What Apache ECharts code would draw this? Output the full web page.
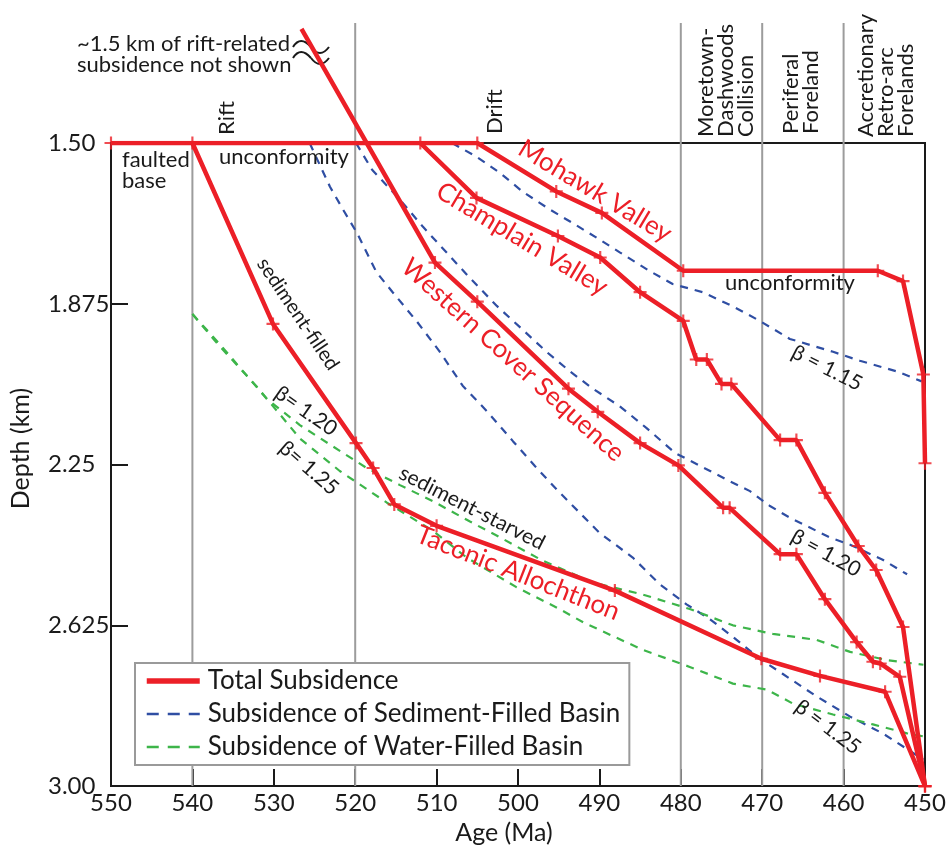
<!DOCTYPE html>
<html>
<head>
<meta charset="utf-8">
<title>Subsidence history</title>
<script src="https://cdn.jsdelivr.net/npm/echarts@6.0.0/dist/echarts.min.js"></script>
<style>
  html, body { margin: 0; padding: 0; background: #fff; }
  #subsidenceChart { width: 951px; height: 850px; }
</style>
</head>
<body>
<div id="subsidenceChart"></div>
<script>
// [age (Ma), depth (km)]
const mohawkValley = [[550, 1.5], [505, 1.5], [495.3, 1.613], [489.7, 1.663], [479.7, 1.798],
  [455.8, 1.798], [452.7, 1.822], [450.2, 2.04], [450, 2.247]];
const champlainValley = [[512, 1.5], [505.1, 1.628], [495.1, 1.717], [489.9, 1.767], [485.0, 1.848],
  [479.7, 1.915], [478.1, 2.005], [476.8, 2.005], [475.0, 2.062], [473.8, 2.062], [467.8, 2.193],
  [465.8, 2.193], [462.3, 2.316], [458.2, 2.44], [456.0, 2.496], [452.7, 2.629], [450, 3.0]];
const westernCover = [[526.6, 1.234], [510.2, 1.779], [505.0, 1.87], [493.8, 2.073], [490.2, 2.127],
  [485.0, 2.2], [480.3, 2.252], [474.8, 2.351], [474.0, 2.351], [467.8, 2.459], [465.8, 2.459],
  [462.3, 2.564], [458.4, 2.664], [456.4, 2.71], [455.5, 2.714], [453.1, 2.745], [450, 3.0]];
const taconicAllochthon = [[540, 1.5], [530.1, 1.922], [519.9, 2.2], [517.8, 2.258], [515.2, 2.343],
  [510.0, 2.393], [488.1, 2.544], [470.1, 2.703], [462.9, 2.743], [454.9, 2.78], [450, 3.0]];

// sediment-filled basin (blue dashed)
const sedBeta115 = [[508.1, 1.5], [505.1, 1.532], [502.2, 1.57], [499.4, 1.614], [496.1, 1.655],
  [493.0, 1.69], [490.0, 1.725], [487.5, 1.755], [483.8, 1.799], [481.0, 1.829], [477.3, 1.848],
  [473.4, 1.883], [470.3, 1.915], [466.6, 1.957], [461.3, 1.987], [458.0, 2.008], [453.4, 2.033],
  [450.4, 2.056]];
const sedBeta120 = [[519.9, 1.5], [517.9, 1.563], [514.5, 1.632], [511.7, 1.695], [508.8, 1.755],
  [505.9, 1.815], [502.6, 1.88], [499.8, 1.929], [496.5, 1.987], [493.6, 2.033], [490.8, 2.073],
  [487.5, 2.114], [484.2, 2.165], [480.7, 2.223], [476.4, 2.265], [474.3, 2.286], [471.5, 2.312],
  [469.1, 2.346], [466.6, 2.374], [461.7, 2.42], [459.2, 2.437], [455.2, 2.472], [452.2, 2.506]];
const sedBeta125 = [[525.6, 1.5], [523.1, 1.602], [521.5, 1.655], [519.8, 1.709], [517.4, 1.801],
  [515.4, 1.848], [512.4, 1.917], [509.6, 1.987], [506.8, 2.066], [503.8, 2.126], [500.6, 2.196],
  [497.9, 2.254], [495.2, 2.309], [492.4, 2.363], [490.0, 2.409], [485.9, 2.467], [482.6, 2.529],
  [479.3, 2.576], [476.4, 2.611], [473.6, 2.652], [470.3, 2.703], [467.5, 2.738], [463.3, 2.791],
  [459.2, 2.838], [455.2, 2.877], [450.2, 2.938]];

// water-filled basin (green dashed)
const waterBeta120 = [[540.0, 1.899], [536.7, 1.968], [533.3, 2.043], [530.9, 2.096], [526.8, 2.158],
  [522.8, 2.207], [518.6, 2.258], [514.5, 2.298], [510.5, 2.335], [505.9, 2.383], [502.2, 2.42],
  [497.0, 2.474], [490.8, 2.525], [484.7, 2.553], [478.9, 2.587], [473.6, 2.625], [468.7, 2.645],
  [463.3, 2.659], [459.2, 2.687], [454.7, 2.706], [450.2, 2.717]];
const waterBeta125 = [[540.0, 1.899], [536.7, 1.973], [532.1, 2.068], [526.8, 2.189], [521.9, 2.265],
  [516.1, 2.339], [510.5, 2.404], [506.3, 2.467], [500.2, 2.536], [494.9, 2.587], [492.0, 2.618],
  [484.7, 2.682], [478.9, 2.722], [473.6, 2.761], [469.4, 2.775], [466.2, 2.808], [461.3, 2.833],
  [456.4, 2.856], [452.2, 2.877], [450.2, 2.884]];

// tectonic phase boundaries (gray verticals)
const phaseAges = [540, 520, 480, 470, 460];
const phaseTopDepths = [1.5, 1.22, 1.22, 1.22, 1.22];

const yTickLabels = ['1.50', '1.875', '2.25', '2.625', '3.00'];

const RED = '#ec1f27';
const BLUE = '#2f4ea3';
const GREEN = '#3db54a';
const INK = '#1a1a1a';
const FONT = 'Lato, "Open Sans", sans-serif';

const PLUS = 'path://M5,0H7V5H12V7H7V12H5V7H0V5H5Z';

const dashed = (name, data, color) => ({
  name,
  type: 'line',
  data,
  symbol: 'none',
  silent: true,
  lineStyle: { color, width: 2.2, type: [8, 7] },
  itemStyle: { color },
});

const total = (data, clip = true) => ({
  name: 'Total Subsidence',
  type: 'line',
  data,
  symbol: 'none',
  silent: true,
  clip,
  lineStyle: { color: RED, width: 4.5 },
  itemStyle: { color: RED },
  z: 3,
});

const phaseLines = phaseAges.map((age, i) => ({
  type: 'line',
  data: [[age, phaseTopDepths[i]], [age, 3.0]],
  symbol: 'none',
  silent: true,
  clip: false,
  lineStyle: { color: '#9c9c9c', width: 2 },
  z: 1,
}));

// text annotations (pixel layout)
const txt = (text, x, y, opts = {}) => ({
  type: 'text',
  x,
  y,
  rotation: ((opts.rot || 0) * Math.PI) / 180,
  silent: true,
  z: 10,
  style: {
    text,
    fill: opts.color || INK,
    fontSize: opts.size || 22,
    fontFamily: FONT,
    lineHeight: opts.lh || 21,
    align: opts.align || 'center',
    verticalAlign: 'middle',
  },
});

// axis-break squiggle on the rift curve
const wave = (x1, y1, cx1, cy1, cx2, cy2, x2, y2) => ({
  type: 'bezierCurve',
  silent: true,
  z: 0,
  shape: { x1, y1, cpx1: cx1, cpy1: cy1, cpx2: cx2, cpy2: cy2, x2, y2 },
  style: { fill: null, stroke: INK, lineWidth: 2 },
});

const annotations = [
  txt('~1.5 km of rift-related\nsubsidence not shown', 77, 54, { align: 'left' }),
  txt('Rift', 227, 135, { rot: 90, align: 'left' }),
  txt('Drift', 495, 134, { rot: 90, align: 'left' }),
  txt('Moretown-\nDashwoods\nCollision', 726, 137, { rot: 90, align: 'left', lh: 20 }),
  txt('Periferal\nForeland', 801, 134, { rot: 90, align: 'left', lh: 20 }),
  txt('Accretionary\nRetro-arc\nForelands', 886, 137, { rot: 90, align: 'left', lh: 20 }),
  txt('faulted\nbase', 122, 170, { align: 'left' }),
  txt('unconformity', 284, 157),
  txt('unconformity', 790, 283),
  txt('sediment-filled', 298, 314, { rot: -56, size: 20 }),
  txt('\u03B2= 1.20', 306, 411, { rot: -35, size: 21 }),
  txt('\u03B2= 1.25', 309, 468, { rot: -41, size: 21 }),
  txt('sediment-starved', 472, 508, { rot: -27, size: 21 }),
  txt('\u03B2 = 1.15', 827, 368, { rot: -27, size: 21 }),
  txt('\u03B2 = 1.20', 826, 553, { rot: -29, size: 21 }),
  txt('\u03B2 = 1.25', 828, 727, { rot: -37, size: 21 }),
  txt('Mohawk Valley', 595, 191, { rot: -31, size: 26, color: RED }),
  txt('Champlain Valley', 522, 239, { rot: -31, size: 26, color: RED }),
  txt('Western Cover Sequence', 513, 360, { rot: -42, size: 26, color: RED }),
  txt('Taconic Allochthon', 518, 573, { rot: -21.5, size: 26, color: RED }),
  wave(293, 47, 298, 39, 304, 39, 311, 47),
  wave(311, 47, 317, 55, 323, 55, 329, 47),
  wave(293, 58, 298, 50, 304, 50, 311, 58),
  wave(311, 58, 317, 66, 323, 66, 329, 58),
];

const chart = echarts.init(document.getElementById('subsidenceChart'));

const option = {
  animation: false,
  backgroundColor: '#fff',
  textStyle: { fontFamily: FONT },
  grid: {
    left: 111,
    right: 26,
    top: 143,
    bottom: 60,
    show: true,
    borderColor: INK,
    borderWidth: 2,
  },
  legend: {
    orient: 'vertical',
    left: 135,
    top: 663,
    itemWidth: 53,
    itemHeight: 14,
    itemGap: 3,
    padding: [3, 9, 3, 9],
    borderColor: '#9a9a9a',
    borderWidth: 2,
    backgroundColor: '#fff',
    selectedMode: false,
    itemStyle: { opacity: 0 },
    textStyle: {
      fontSize: 26, color: INK, fontFamily: FONT, lineHeight: 30, padding: [0, 0, 0, 3],
    },
    data: [
      { name: 'Total Subsidence', lineStyle: { width: 5.5 } },
      { name: 'Subsidence of Sediment-Filled Basin', lineStyle: { type: [12, 9], width: 2.5 } },
      { name: 'Subsidence of Water-Filled Basin', lineStyle: { type: [12, 9], width: 2.5 } },
    ],
  },
  xAxis: {
    type: 'value',
    min: 450,
    max: 550,
    interval: 10,
    inverse: true,
    name: 'Age (Ma)',
    nameLocation: 'middle',
    nameGap: 31,
    nameTextStyle: { fontSize: 25, color: INK, padding: [0, 28, 0, 0] },
    axisLine: { lineStyle: { color: INK, width: 2 } },
    axisTick: { inside: true, length: 17, lineStyle: { color: INK, width: 2 } },
    axisLabel: { fontSize: 24, color: INK, margin: 5 },
    splitLine: { show: false },
  },
  yAxis: {
    type: 'value',
    min: 1.5,
    max: 3.0,
    interval: 0.375,
    inverse: true,
    name: 'Depth (km)',
    nameLocation: 'middle',
    nameRotate: 90,
    nameGap: 78,
    nameTextStyle: { fontSize: 25, color: INK, padding: [0, 0, 0, 32] },
    axisLine: { lineStyle: { color: INK, width: 2 } },
    axisTick: { inside: true, length: 17, lineStyle: { color: INK, width: 2 } },
    axisLabel: {
      fontSize: 24, color: INK, align: 'left', margin: 63,
      formatter: (v, i) => yTickLabels[i],
    },
    splitLine: { show: false },
  },
  graphic: annotations,
  series: [
    ...phaseLines,
    dashed('Subsidence of Sediment-Filled Basin', sedBeta115, BLUE),
    dashed('Subsidence of Sediment-Filled Basin', sedBeta120, BLUE),
    dashed('Subsidence of Sediment-Filled Basin', sedBeta125, BLUE),
    dashed('Subsidence of Water-Filled Basin', waterBeta120, GREEN),
    dashed('Subsidence of Water-Filled Basin', waterBeta125, GREEN),
    total(mohawkValley),
    total(champlainValley),
    total(westernCover, false),
    total(taconicAllochthon),
    {
      name: 'Total Subsidence',
      type: 'scatter',
      silent: true,
      symbol: PLUS,
      symbolSize: 13,
      itemStyle: { color: RED },
      z: 4,
      data: [...mohawkValley, ...champlainValley, ...westernCover.slice(1), ...taconicAllochthon],
    },
  ],
};

chart.setOption(option);
</script>
</body>
</html>
